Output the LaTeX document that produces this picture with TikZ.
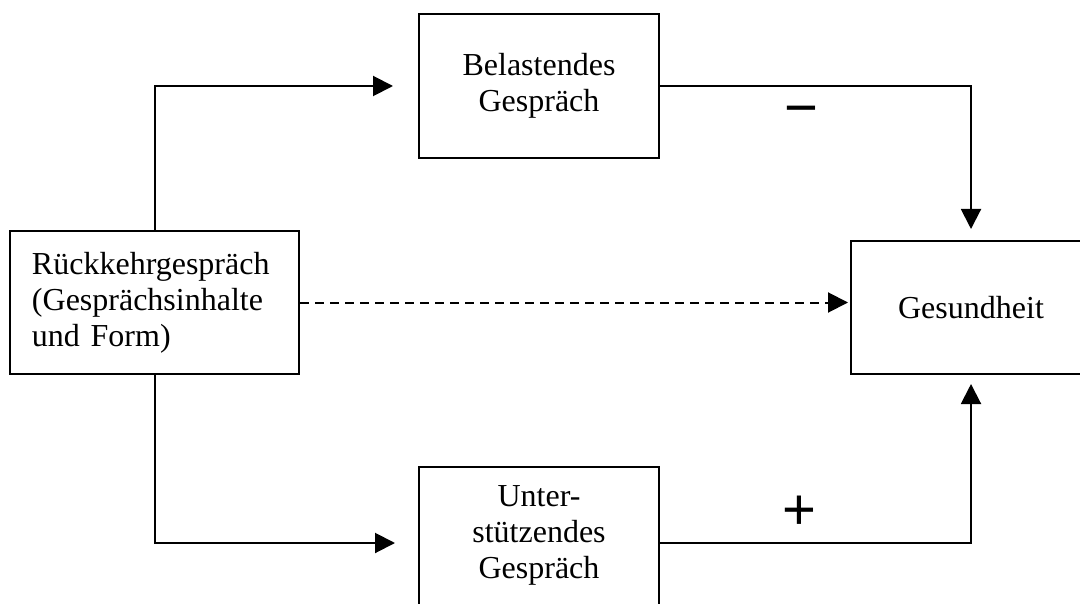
\documentclass[tikz,border=0pt]{standalone}
\usepackage{fontspec}
\setmainfont{Liberation Serif}
\newfontfamily\signfont{Liberation Sans}
\usetikzlibrary{arrows.meta,calc}
\begin{document}
\begin{tikzpicture}[x=0.5pt,y=-0.5pt,
  box/.style={draw,line width=1pt,inner sep=0pt,font=\fontsize{16}{18}\selectfont,align=center},
  txt/.style={inner sep=0pt,font=\fontsize{16}{18}\selectfont,align=center},
  conn/.style={line width=1pt,-{Triangle[length=10pt,width=10pt]}},
  dashconn/.style={conn,dash pattern=on 4.5pt off 3pt},
  sign/.style={font=\signfont\fontsize{29}{29}\selectfont,inner sep=0pt}]
\useasboundingbox (0,0) rectangle (1080,604);
\clip (0,0) rectangle (1080,604);
% boxes
\node[box,minimum width=120pt,minimum height=72pt] (bel) at (539,86) {Belastendes\\Gespräch};
\node[box,minimum width=120pt,minimum height=76pt] (sup) at (539,543) {};
\node[txt] (suptext) at (539,535) {Unter-\\stützendes\\Gespräch};
\node[box,align=left,inner xsep=11pt,text width=122.5pt,minimum height=71.5pt] (left) at (154.5,302.5) {Rückkehrgespräch\\(Gesprächsinhalte\\und Form)};
\node[box,minimum width=120pt,minimum height=66.5pt] (ges) at (971,307.5) {Gesundheit};
% connectors
\draw[conn,shorten >=12.5pt] (left.north) |- (bel.west);
\draw[conn,shorten >=11.5pt] (left.south) |- (sup.west);
\draw[dashconn,shorten >=1pt] (left.east) -- (left.east -| ges.west);
\draw[conn,shorten >=5.5pt] (bel.east) -| (ges.north);
\draw[conn,shorten >=4.5pt] (sup.east) -| (ges.south);
% signs
\node[sign] (minus) at (801,117) {−};
\node[sign] (plus) at (799,513) {+};
\end{tikzpicture}
\end{document}
